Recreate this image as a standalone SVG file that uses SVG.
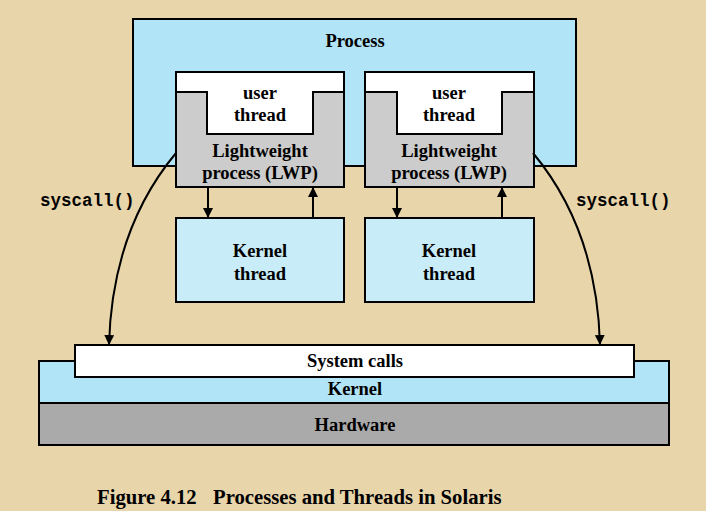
<svg xmlns="http://www.w3.org/2000/svg" width="706" height="511" viewBox="0 0 706 511">
<defs>
<marker id="ah" viewBox="0 0 10 10" refX="10" refY="5" markerWidth="10" markerHeight="10" markerUnits="userSpaceOnUse" orient="auto">
<path d="M0,0 L10,5 L0,10 Z" fill="#000"/>
</marker>
<style>
.box{stroke:#000;stroke-width:2}
.t{font-family:"Liberation Serif","Times New Roman",serif;font-weight:bold;font-size:18.5px;text-anchor:middle;fill:#000}
.m{font-family:"Liberation Mono","Courier New",monospace;font-weight:bold;font-size:17.5px;fill:#000}
.cap{font-family:"Liberation Serif","Times New Roman",serif;font-weight:bold;font-size:20.7px;fill:#000}
.c{stroke:#000;stroke-width:2;fill:none}
</style>
</defs>
<rect width="706" height="511" fill="#e8d5aa"/>
<g id="process">
<rect class="box" x="133" y="19" width="443" height="147" fill="#b0e4f6"/>
<text class="t" x="355" y="47">Process</text>
</g>
<g id="lwp1">
<rect class="box" x="176" y="72" width="168" height="115" fill="#cccccc"/>
<path class="box" d="M176,72 H344 V92 H313 V134 H207 V92 H176 Z" fill="#ffffff"/>
<text class="t" x="260" y="99">user</text>
<text class="t" x="260" y="121">thread</text>
<text class="t" x="260" y="157">Lightweight</text>
<text class="t" x="260" y="179">process (LWP)</text>
</g>
<g id="lwp2">
<rect class="box" x="365" y="72" width="169" height="115" fill="#cccccc"/>
<path class="box" d="M365,72 H534 V92 H502 V134 H397 V92 H365 Z" fill="#ffffff"/>
<text class="t" x="449" y="99">user</text>
<text class="t" x="449" y="121">thread</text>
<text class="t" x="449" y="157">Lightweight</text>
<text class="t" x="449" y="179">process (LWP)</text>
</g>
<g id="kt1">
<rect class="box" x="176" y="218" width="168" height="84" fill="#c8ecf8"/>
<text class="t" x="260" y="257">Kernel</text>
<text class="t" x="260" y="280">thread</text>
</g>
<g id="kt2">
<rect class="box" x="365" y="218" width="169" height="84" fill="#c8ecf8"/>
<text class="t" x="449" y="257">Kernel</text>
<text class="t" x="449" y="280">thread</text>
</g>
<g id="hardware">
<rect class="box" x="39" y="403" width="630" height="42" fill="#aaaaaa"/>
<text class="t" x="355" y="431">Hardware</text>
</g>
<g id="kernel">
<rect class="box" x="39" y="361" width="630" height="42" fill="#b0e4f6"/>
<text class="t" x="355" y="395">Kernel</text>
</g>
<g id="syscalls">
<rect class="box" x="75" y="345" width="559" height="32" fill="#ffffff"/>
<text class="t" x="355" y="367">System calls</text>
</g>
<g id="connectors">
<path class="c" d="M208,187 V218" marker-end="url(#ah)"/>
<path class="c" d="M313,218 V187" marker-end="url(#ah)"/>
<path class="c" d="M397,187 V218" marker-end="url(#ah)"/>
<path class="c" d="M502,218 V187" marker-end="url(#ah)"/>
<path class="c" d="M176,153 Q112,230 109,345" marker-end="url(#ah)"/>
<path class="c" d="M533,153 Q597,230 600,345" marker-end="url(#ah)"/>
<text class="m" x="40" y="206">syscall()</text>
<text class="m" x="576" y="206">syscall()</text>
</g>
<g id="caption">
<text class="cap" x="97" y="504">Figure 4.12</text>
<text class="cap" x="213" y="504">Processes and Threads in Solaris</text>
</g>
</svg>
